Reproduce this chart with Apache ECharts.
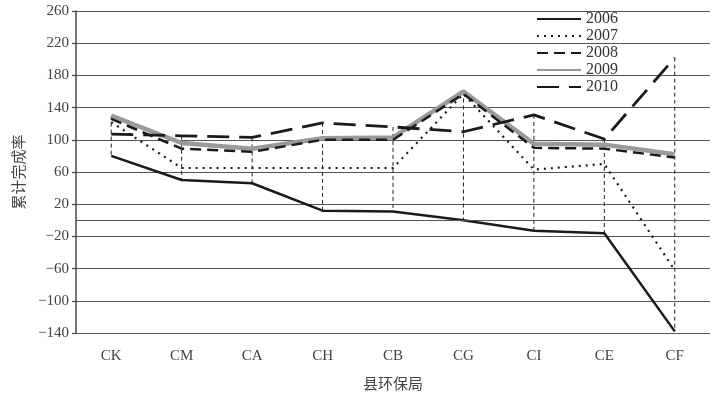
<!DOCTYPE html>
<html><head><meta charset="utf-8">
<script src="https://cdn.jsdelivr.net/npm/echarts@6/dist/echarts.min.js"></script>
<style>html,body{margin:0;padding:0;background:#fff}#c{width:723px;height:395px}</style>
</head><body><div id="c"></div>
<script>
const categories = ['CK','CM','CA','CH','CB','CG','CI','CE','CF'];
const s2006 = [80, 50, 46, 12, 11, 0, -13, -16, -138];
const s2007 = [122, 65, 65, 65, 65, 157, 63, 70, -62];
const s2008 = [126, 89, 85, 100, 100, 157, 90, 89, 78];
const s2009 = [130, 96, 89, 102, 103, 160, 95, 94, 82];
const s2010 = [107, 105, 103, 121, 116, 110, 131, 101, 202];
const yTicks = { min: -140, max: 260, interval: 40 };
const seriesNames = ['2006','2007','2008','2009','2010'];

const all = [s2006, s2007, s2008, s2009, s2010];
const dropData = categories.map((c, i) => {
  const vals = all.map(a => a[i]);
  return [i, Math.max(...vals), Math.min(...vals)];
});

const serif = 'Liberation Serif';
const chart = echarts.init(document.getElementById('c'), null, {renderer: 'canvas'});
chart.setOption({
  animation: false,
  backgroundColor: '#fff',
  grid: { left: 76, right: 13, top: 11, bottom: 62, containLabel: false, outerBoundsMode: 'none' },
  legend: {
    data: seriesNames,
    orient: 'vertical',
    left: 531, top: 6,
    itemWidth: 44, itemHeight: 12, itemGap: 1,
    itemStyle: { opacity: 0 },
    textStyle: { fontFamily: serif, fontSize: 16, lineHeight: 15, color: '#333' }
  },
  xAxis: {
    type: 'category', data: categories, boundaryGap: true,
    axisLine: { show: false, onZero: false }, axisTick: { show: false },
    axisLabel: { fontFamily: serif, fontSize: 15, color: '#444', margin: 16 },
    name: '县环保局', nameLocation: 'middle', nameGap: 43,
    nameTextStyle: { fontFamily: 'Noto Sans CJK SC', fontSize: 15, color: '#444' }
  },
  yAxis: {
    type: 'value', min: yTicks.min, max: yTicks.max, interval: yTicks.interval,
    axisLine: { show: true, onZero: false, lineStyle: { color: '#444', width: 1.5 } },
    axisTick: { show: true, length: 4, lineStyle: { color: '#444', width: 1.2 } },
    axisLabel: { fontFamily: serif, fontSize: 15, color: '#444', margin: 7,
      formatter: v => String(v).replace('-', '\u2212') },
    splitLine: { show: true, lineStyle: { color: '#555', width: 1.2 } },
    name: '累计完成率', nameLocation: 'middle', nameGap: 50, nameRotate: 90,
    nameTextStyle: { fontFamily: 'Noto Sans CJK SC', fontSize: 15, color: '#444' }
  },
  series: [
    {
      type: 'custom', name: 'drop', z: 1, silent: true,
      data: dropData,
      renderItem: function (params, api) {
        const p1 = api.coord([api.value(0), api.value(1)]);
        const p2 = api.coord([api.value(0), api.value(2)]);
        return { type: 'line', shape: { x1: p1[0], y1: p1[1], x2: p2[0], y2: p2[1] },
          style: { stroke: '#222', lineWidth: 1, lineDash: [4, 3] } };
      }
    },
    { name: '2009', type: 'line', data: s2009, symbol: 'none', z: 2,
      lineStyle: { color: '#9a9a9a', width: 4.5 }, itemStyle: { color: '#9a9a9a' } },
    { name: '2006', type: 'line', data: s2006, symbol: 'none', z: 3,
      lineStyle: { color: '#1a1a1a', width: 2.5 }, itemStyle: { color: '#1a1a1a' },
      markLine: { silent: true, symbol: 'none', label: { show: false },
        lineStyle: { color: '#555', width: 1.2, type: 'solid' }, data: [{ yAxis: 0 }] } },
    { name: '2007', type: 'line', data: s2007, symbol: 'none', z: 3,
      lineStyle: { color: '#1a1a1a', width: 2.2, type: [2, 5] }, itemStyle: { color: '#1a1a1a' } },
    { name: '2008', type: 'line', data: s2008, symbol: 'none', z: 3,
      lineStyle: { color: '#1a1a1a', width: 2.5, type: [11, 6] }, itemStyle: { color: '#1a1a1a' } },
    { name: '2010', type: 'line', data: s2010, symbol: 'none', z: 3,
      lineStyle: { color: '#1a1a1a', width: 2.8, type: [22, 10] }, itemStyle: { color: '#1a1a1a' } }
  ]
});
</script></body></html>
